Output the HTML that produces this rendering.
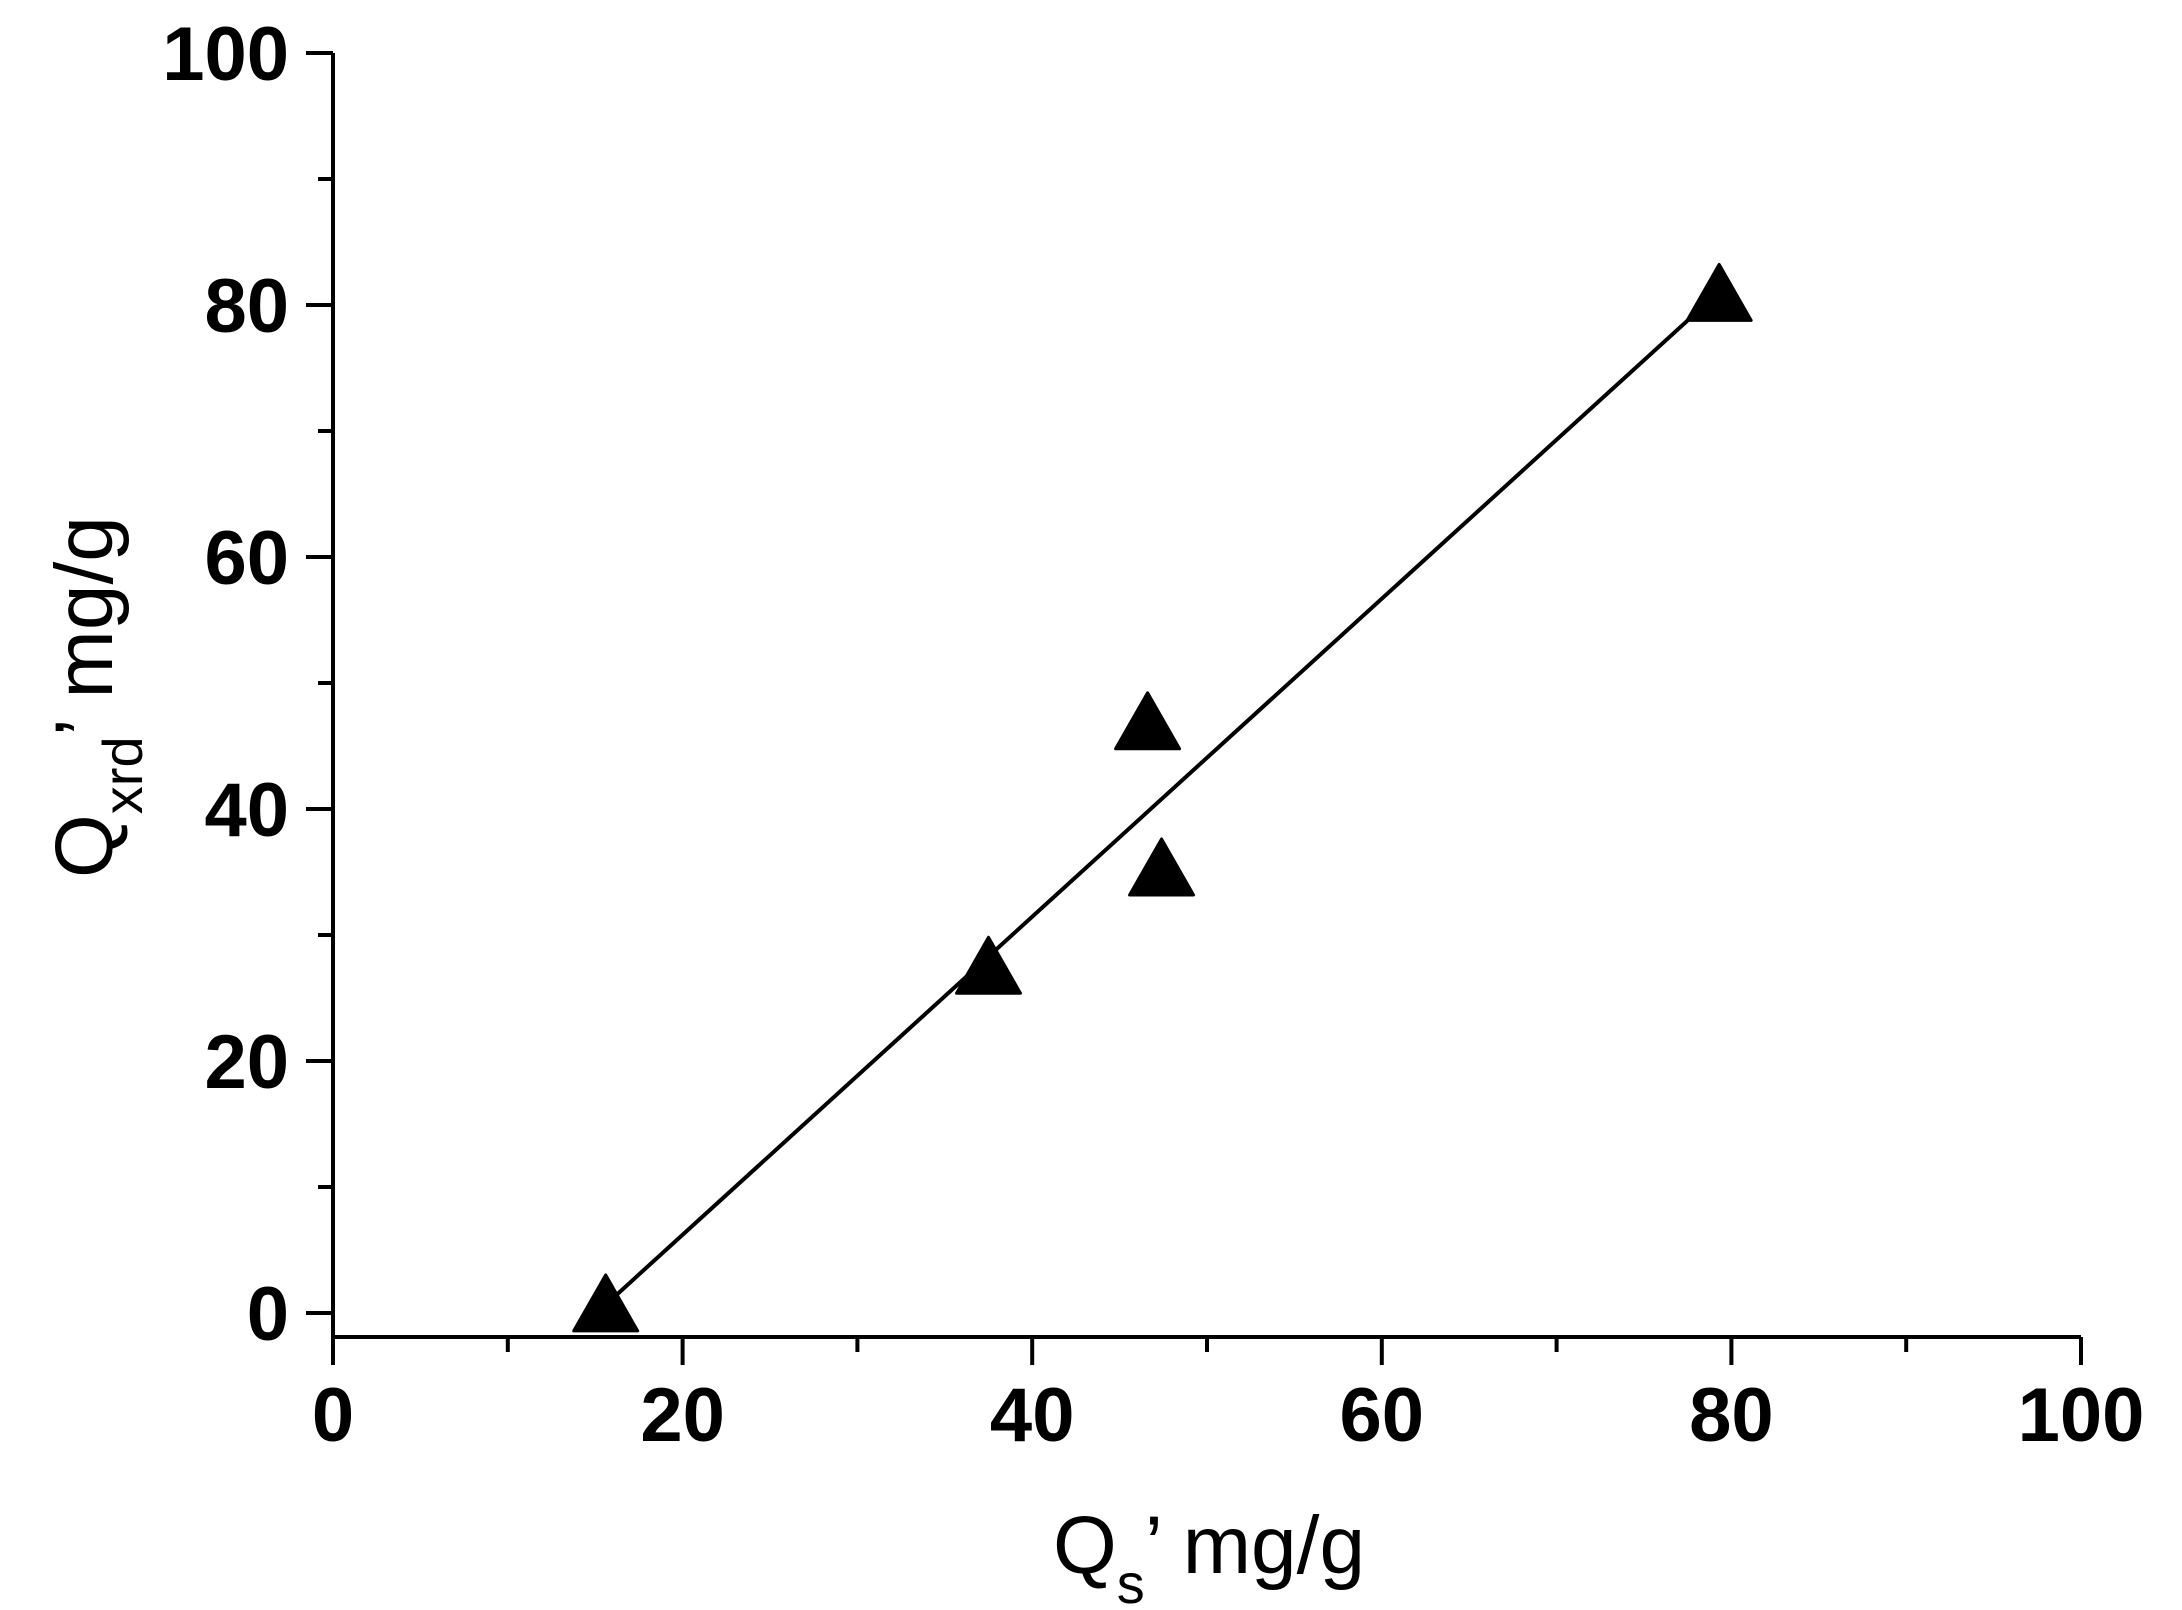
<!DOCTYPE html>
<html><head><meta charset="utf-8"><style>
html,body{margin:0;padding:0;background:#fff;}
svg{display:block;}
</style></head><body>
<svg id="chart" width="2182" height="1610" viewBox="0 0 2182 1610" xmlns="http://www.w3.org/2000/svg">
<g id="axes"></g>
<g id="marks"></g>
<text x="1053" y="1573" font-family="Liberation Sans, sans-serif" font-size="82" fill="#000">Q<tspan font-size="56" dy="30">s</tspan><tspan dy="-30">’ mg/g</tspan></text>
<text transform="translate(112,878) rotate(-90)" font-family="Liberation Sans, sans-serif" font-size="82" fill="#000">Q<tspan font-size="56" dy="30">xrd</tspan><tspan dy="-30">’ mg/g</tspan></text>
</svg>
<script>
const xTicks = [0, 20, 40, 60, 80, 100];
const yTicks = [0, 20, 40, 60, 80, 100];
const xMinor = [10, 30, 50, 70, 90];
const yMinor = [10, 30, 50, 70, 90];
const qs = [15.6, 37.5, 46.6, 47.4, 79.3];
const qxrd = [0.8, 27.6, 47.0, 35.4, 81.0];
const fitSlope = 1.262;
const fitIntercept = -19.03;
const fitRange = [15.6, 79.3];

const NS = 'http://www.w3.org/2000/svg';
const X0 = 333, X1 = 2081, Y0 = 1313, Y1 = 53, AXY = 1337;
const sx = v => X0 + (v / 100) * (X1 - X0);
const sy = v => Y0 - (v / 100) * (Y0 - Y1);
function mk(tag, attrs, parent) {
  const e = document.createElementNS(NS, tag);
  for (const k in attrs) e.setAttribute(k, attrs[k]);
  parent.appendChild(e);
  return e;
}
const axes = document.getElementById('axes');
const marks = document.getElementById('marks');

let xl = mk('line', {x1: X0, y1: AXY, x2: X1, y2: AXY, stroke: '#000', 'stroke-width': 4}, axes);


let yl = mk('line', {x1: X0, y1: AXY, x2: X0, y2: Y1, stroke: '#000', 'stroke-width': 4}, axes);



xTicks.forEach(v => {
  const t = mk('line', {x1: sx(v), y1: AXY, x2: sx(v), y2: AXY + 28, stroke: '#000', 'stroke-width': 4}, axes);
  
  
  const l = mk('text', {x: sx(v), y: 1441, 'text-anchor': 'middle', 'font-family': 'Liberation Sans, sans-serif', 'font-weight': 'bold', 'font-size': 76, fill: '#000'}, axes);
  l.textContent = v;
  
  
});
xMinor.forEach(v => {
  const t = mk('line', {x1: sx(v), y1: AXY, x2: sx(v), y2: AXY + 15, stroke: '#000', 'stroke-width': 4}, axes);
  
  
});
yTicks.forEach(v => {
  const t = mk('line', {x1: X0 - 27, y1: sy(v), x2: X0, y2: sy(v), stroke: '#000', 'stroke-width': 4}, axes);
  
  
  const l = mk('text', {x: 289, y: sy(v) + 27, 'text-anchor': 'end', 'font-family': 'Liberation Sans, sans-serif', 'font-weight': 'bold', 'font-size': 76, fill: '#000'}, axes);
  l.textContent = v;
  
  
});
yMinor.forEach(v => {
  const t = mk('line', {x1: X0 - 15, y1: sy(v), x2: X0, y2: sy(v), stroke: '#000', 'stroke-width': 4}, axes);
  
  
});

const fl = mk('line', {
  x1: sx(fitRange[0]), y1: sy(fitSlope * fitRange[0] + fitIntercept),
  x2: sx(fitRange[1]), y2: sy(fitSlope * fitRange[1] + fitIntercept),
  stroke: '#000', 'stroke-width': 4
}, marks);



qs.forEach((v, i) => {
  const cx = sx(v), cy = sy(qxrd[i]);
  const w = 32, h = 28;
  const p = mk('polygon', {
    points: `${cx},${cy - h} ${cx + w},${cy + h} ${cx - w},${cy + h}`,
    fill: '#000', stroke: '#000', 'stroke-width': 3, 'stroke-linejoin': 'round'
  }, marks);
  
  
});
</script>
</body></html>
